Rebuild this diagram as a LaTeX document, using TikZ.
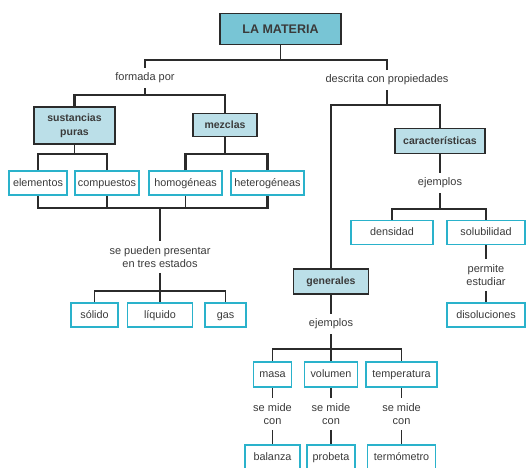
\documentclass[tikz,border=0pt]{standalone}
\usepackage{fontspec}
\setmainfont{Liberation Sans}
\usepackage{xcolor}
\definecolor{Ink}{HTML}{3A3A3A}
\definecolor{Wire}{HTML}{2B2B2B}
\definecolor{Teal}{HTML}{78C5D5}
\definecolor{TealLight}{HTML}{BBDFE8}
\definecolor{Cyan}{HTML}{2AB2CB}
\usetikzlibrary{positioning,calc}
\tikzset{
  concept/.style={draw=Wire,fill=TealLight,line width=1.6pt,minimum height=25pt,
    align=center,text=Ink,font=\fontsize{10.5}{14}\selectfont\bfseries,inner sep=2pt},
  title/.style={concept,fill=Teal,minimum width=121pt,minimum height=31pt,
    font=\fontsize{12.5}{14}\selectfont\bfseries},
  example/.style={draw=Cyan,fill=white,line width=1.6pt,minimum height=24pt,
    text=Ink,font=\fontsize{10.8}{12}\selectfont,inner sep=2pt,
    text height=1.6ex,text depth=.4ex},
  tag/.style={align=center,text=Ink,font=\fontsize{11}{13}\selectfont,inner sep=5pt},
  link/.style={draw=Wire,line width=1.3pt},
  heavy/.style={link,line width=2.4pt}
}

\begin{document}
\begin{tikzpicture}[x=1pt,y=-1pt]
\useasboundingbox (0,0) rectangle (526,467);
% concepts
\node[title] (materia) at (280.5,29) {LA MATERIA};
\node[concept,minimum width=81pt,minimum height=37pt] (sust) at (74.5,125.5) {sustancias\\puras};
\node[concept,minimum width=64pt,minimum height=23pt] (mezclas) at (225,125) {mezclas};
\node[concept,minimum width=90pt] (caract) at (440,141) {características};
\node[concept,minimum width=75pt] (generales) at (331,281.5) {generales};
% examples
\node[example,minimum width=58pt] (elementos) at (38,183) {elementos};
\node[example,minimum width=64pt] (compuestos) at (107,183) {compuestos};
\node[example,minimum width=73pt] (homog) at (185.5,183) {homogéneas};
\node[example,minimum width=73pt] (heterog) at (267.5,183) {heterogéneas};
\node[example,minimum width=47pt] (solido) at (94.5,315) {sólido};
\node[example,minimum width=65pt] (liquido) at (160,315) {líquido};
\node[example,minimum width=41pt] (gas) at (225.5,315) {gas};
\node[example,minimum width=82pt] (densidad) at (392,232.5) {densidad};
\node[example,minimum width=78pt] (solubilidad) at (486,232.5) {solubilidad};
\node[example,minimum width=78pt] (disoluciones) at (486,315) {disoluciones};
\node[example,minimum width=38pt,minimum height=25pt] (masa) at (272.5,374.5) {masa};
\node[example,minimum width=53pt,minimum height=25pt] (volumen) at (331,374.5) {volumen};
\node[example,minimum width=71pt,minimum height=25pt] (temperatura) at (401.5,374.5) {temperatura};
\node[example,minimum width=55pt] (balanza) at (272.5,457) {balanza};
\node[example,minimum width=48pt] (probeta) at (331,457) {probeta};
\node[example,minimum width=68pt] (termometro) at (401.5,457) {termómetro};
% linking words
\node[tag] (formada) at (145,78) {formada por};
\node[tag] (descrita) at (387,80) {descrita con propiedades};
\node[tag] (presentar) at (160,257) {se pueden presentar\\en tres estados};
\node[tag] (ejemplosA) at (440,183) {ejemplos};
\node[tag] (permite) at (486,275) {permite\\estudiar};
\node[tag] (ejemplosB) at (331,324) {ejemplos};
\node[tag] (mideA) at (272.5,414) {se mide\\con};
\node[tag] (mideB) at (331,414) {se mide\\con};
\node[tag] (mideC) at (401.5,414) {se mide\\con};
% junctions
\coordinate (top) at (280.5,60);
\coordinate (left) at (145,95);
\coordinate (right) at (387,105);
\coordinate (pure) at (74.5,154);
\coordinate (mix) at (225,154);
\coordinate (all) at (160,208);
\coordinate (states) at (160,291);
\coordinate (props) at (440,209);
\coordinate (gen) at (331,349);
% connectors
\draw[link] (materia) -- (top);
\draw[link] (formada) |- (top) -| (descrita);
\draw[link] (formada) -- (left);
\draw[heavy] (sust) |- (left) -| (mezclas);
\draw[link] (sust) -- (pure);
\draw[link] (elementos) |- (pure) -| (compuestos);
\draw[heavy] (mezclas) -- (mix);
\draw[heavy] (homog) |- (mix) -| (heterog);
\draw[heavy] (elementos) |- (all) -| (heterog);
\draw[link] (compuestos) -- (compuestos|-all);
\draw[link] (homog) -- (homog|-all);
\draw[heavy] (all) -- (presentar);
\draw[heavy] (presentar) -- (states);
\draw[link] (solido) |- (states) -| (gas);
\draw[link] (liquido) -- (states);
\draw[link] (descrita) -- (right);
\draw[link] (generales) |- (right);
\draw[heavy] (right) -| (caract);
\draw[heavy] (caract) -- (ejemplosA);
\draw[heavy] (ejemplosA) -- (props);
\draw[link] (densidad) |- (props) -| (solubilidad);
\draw[link] (solubilidad) -- (permite);
\draw[link] (permite) -- (disoluciones);
\draw[link] (generales) -- (ejemplosB);
\draw[link] (ejemplosB) -- (gen);
\draw[link] (masa) |- (gen) -| (temperatura);
\draw[link] (volumen) -- (gen);
\draw[link] (masa) -- (mideA);
\draw[link] (mideA) -- (balanza);
\draw[link] (volumen) -- (mideB);
\draw[link] (mideB) -- (probeta);
\draw[link] (temperatura) -- (mideC);
\draw[link] (mideC) -- (termometro);
\end{tikzpicture}
\end{document}
